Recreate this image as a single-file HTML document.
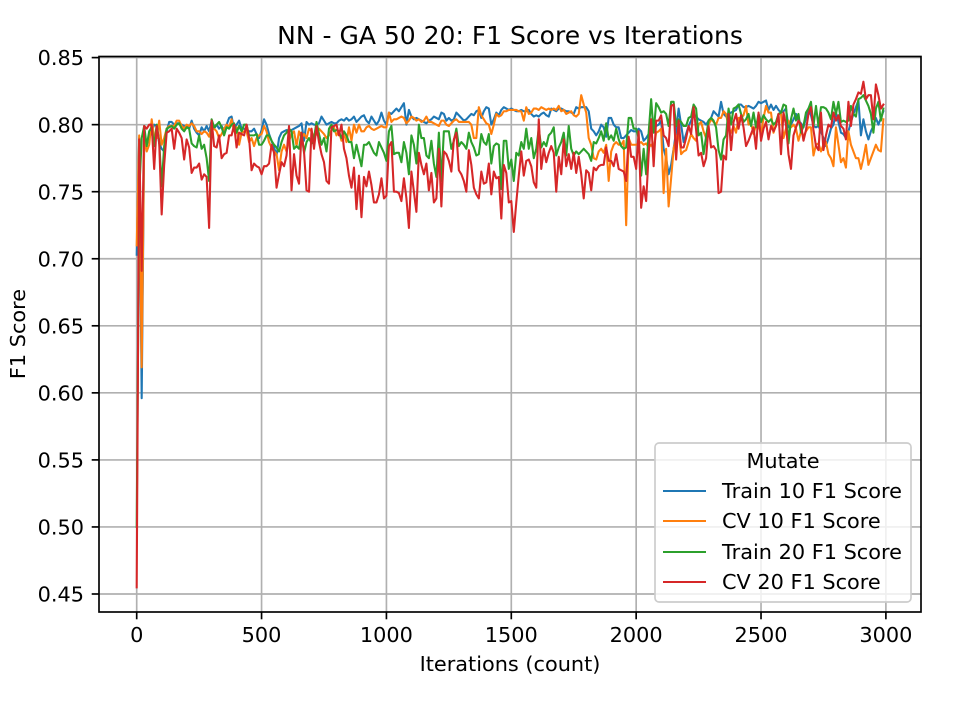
<!DOCTYPE html>
<html lang="en">
<head>
<meta charset="utf-8">
<title>NN - GA 50 20: F1 Score vs Iterations</title>
<style>
html,body{margin:0;padding:0;background:#fff;}
svg{display:block;font-family:"DejaVu Sans",sans-serif;fill:#000;}
text{font-size:20.83px;fill:#000;}
</style>
</head>
<body>
<svg id="chart" xmlns="http://www.w3.org/2000/svg" width="960" height="720" viewBox="0 0 960 720">
  <rect x="0" y="0" width="960" height="720" fill="#fff"/>
  <g id="grid"></g>
  <g id="series"></g>
  <g id="ticks"></g>
  <rect x="99" y="56.5" width="822" height="555.5" fill="none" stroke="#000" stroke-width="1.67"/>
  <text x="510" y="44" text-anchor="middle" style="font-size:25px">NN - GA 50 20: F1 Score vs Iterations</text>
  <text x="510" y="671" text-anchor="middle">Iterations (count)</text>
  <text transform="translate(25 334) rotate(-90)" text-anchor="middle">F1 Score</text>
  <g>
    <rect x="655" y="443" width="256" height="159" rx="4" ry="4" fill="#fff" fill-opacity="0.8" stroke="#ccc" stroke-width="1.67"/>
    <text x="783" y="468" text-anchor="middle">Mutate</text>
    <line x1="663" x2="706" y1="491" y2="491" stroke="#1f77b4" stroke-width="2.08"/>
    <text x="722" y="498">Train 10 F1 Score</text>
    <line x1="663" x2="706" y1="521" y2="521" stroke="#ff7f0e" stroke-width="2.08"/>
    <text x="722" y="528">CV 10 F1 Score</text>
    <line x1="663" x2="706" y1="552" y2="552" stroke="#2ca02c" stroke-width="2.08"/>
    <text x="722" y="559">Train 20 F1 Score</text>
    <line x1="663" x2="706" y1="582" y2="582" stroke="#d62728" stroke-width="2.08"/>
    <text x="722" y="589">CV 20 F1 Score</text>
  </g>
</svg>
<script>
const xTickValues = [0, 500, 1000, 1500, 2000, 2500, 3000];
const xTickLabels = ["0", "500", "1000", "1500", "2000", "2500", "3000"];
const yTickValues = [0.45, 0.50, 0.55, 0.60, 0.65, 0.70, 0.75, 0.80, 0.85];
const yTickLabels = ["0.45", "0.50", "0.55", "0.60", "0.65", "0.70", "0.75", "0.80", "0.85"];
const iterationStep = 10;

const train10 = [
.703,.79,.596,.79,.785,.79,.795,.80,.799,.786,
.782,.78,.795,.802,.802,.80,.801,.801,.80,.799,
.799,.797,.803,.797,.794,.792,.798,.795,.799,.795,
.803,.797,.80,.797,.799,.795,.80,.805,.806,.797,
.80,.803,.797,.797,.796,.795,.795,.797,.793,.79,
.796,.804,.80,.793,.788,.783,.777,.79,.794,.795,
.796,.795,.796,.797,.798,.799,.801,.788,.802,.80,
.801,.80,.80,.801,.806,.803,.80,.801,.802,.801,
.801,.803,.804,.803,.805,.803,.804,.806,.802,.804,
.806,.807,.803,.801,.806,.803,.80,.803,.809,.803,
.80,.809,.808,.81,.812,.81,.813,.816,.80,.811,
.806,.804,.805,.804,.803,.802,.801,.803,.804,.806,
.805,.804,.809,.808,.803,.805,.803,.804,.809,.807,
.805,.803,.804,.806,.808,.807,.81,.811,.805,.81,
.813,.812,.80,.804,.809,.807,.811,.813,.812,.811,
.812,.811,.81,.81,.811,.81,.81,.811,.808,.806,
.807,.806,.808,.809,.807,.806,.812,.811,.81,.812,
.812,.811,.81,.81,.809,.808,.813,.812,.813,.813,
.813,.81,.797,.795,.792,.795,.80,.798,.791,.805,
.805,.80,.798,.798,.79,.79,.792,.794,.796,.795,
.795,.797,.795,.788,.79,.793,.796,.798,.799,.80,
.803,.782,.775,.763,.77,.782,.795,.812,.80,.787,
.793,.799,.803,.808,.806,.804,.803,.802,.80,.803,
.805,.81,.808,.806,.817,.808,.806,.808,.809,.81,
.811,.815,.815,.813,.813,.814,.813,.812,.814,.817,
.816,.817,.818,.811,.815,.811,.814,.811,.809,.81,
.812,.798,.80,.804,.808,.803,.801,.798,.805,.812,
.807,.799,.798,.799,.795,.79,.784,.79,.797,.80,
.809,.802,.794,.793,.79,.795,.802,.808,.813,.818,
.792,.804,.795,.789,.795,.799,.805,.80,.805,.81
];

const cv10 = [
.71,.792,.619,.79,.78,.785,.804,.79,.79,.803,
.785,.79,.797,.799,.799,.799,.803,.803,.799,.797,
.80,.799,.801,.799,.795,.795,.793,.795,.794,.791,
.80,.797,.795,.79,.793,.797,.80,.798,.804,.795,
.798,.785,.794,.795,.795,.787,.79,.784,.79,.792,
.793,.799,.795,.787,.783,.78,.778,.766,.78,.785,
.78,.788,.793,.795,.784,.795,.79,.793,.79,.797,
.795,.79,.793,.797,.795,.793,.79,.792,.796,.798,
.792,.795,.788,.793,.787,.798,.788,.80,.794,.80,
.795,.795,.798,.799,.797,.796,.797,.798,.799,.798,
.798,.809,.802,.804,.804,.805,.806,.805,.801,.803,
.806,.805,.803,.804,.802,.803,.806,.802,.802,.801,
.80,.799,.803,.803,.80,.799,.801,.803,.804,.802,
.802,.802,.802,.802,.80,.79,.79,.813,.807,.804,
.801,.80,.793,.80,.808,.806,.807,.81,.81,.811,
.811,.811,.811,.81,.81,.803,.813,.808,.809,.812,
.812,.811,.813,.812,.811,.812,.811,.812,.811,.814,
.81,.811,.808,.809,.81,.807,.806,.808,.822,.815,
.809,.79,.785,.775,.774,.78,.782,.779,.785,.758,
.78,.785,.787,.785,.785,.788,.725,.79,.785,.785,
.785,.786,.787,.785,.786,.783,.785,.782,.794,.795,
.797,.749,.782,.739,.76,.782,.79,.795,.778,.78,
.781,.787,.793,.79,.788,.80,.802,.795,.79,.80,
.804,.802,.80,.805,.805,.81,.808,.798,.794,.799,
.794,.805,.805,.807,.814,.80,.801,.793,.80,.80,
.793,.805,.814,.809,.809,.794,.80,.808,.808,.79,
.797,.803,.798,.80,.797,.788,.795,.791,.795,.798,
.798,.777,.785,.786,.78,.785,.787,.778,.775,.769,
.798,.785,.772,.775,.768,.795,.785,.78,.775,.775,
.767,.775,.785,.77,.775,.78,.785,.781,.78,.804
];

const train20 = [
.50,.75,.79,.799,.784,.795,.798,.784,.80,.788,
.754,.784,.797,.798,.799,.797,.80,.801,.797,.795,
.798,.797,.786,.784,.783,.792,.782,.785,.775,.758,
.804,.798,.80,.802,.798,.792,.798,.797,.80,.801,
.794,.799,.795,.80,.80,.792,.792,.792,.793,.785,
.785,.788,.792,.792,.788,.785,.783,.78,.787,.792,
.794,.797,.795,.782,.784,.782,.794,.779,.787,.79,
.786,.79,.802,.793,.785,.79,.78,.797,.80,.795,
.796,.795,.79,.795,.792,.787,.787,.775,.785,.777,
.769,.785,.785,.787,.783,.779,.777,.787,.783,.779,
.773,.795,.799,.778,.779,.779,.772,.787,.779,.763,
.792,.785,.771,.80,.79,.79,.777,.775,.788,.771,
.761,.794,.758,.795,.795,.795,.782,.788,.797,.784,
.787,.785,.782,.794,.787,.783,.777,.778,.793,.787,
.785,.793,.771,.784,.786,.785,.752,.788,.788,.767,
.774,.758,.779,.777,.787,.782,.797,.782,.79,.775,
.782,.797,.783,.787,.784,.792,.794,.798,.777,.783,
.787,.794,.777,.799,.782,.777,.78,.778,.78,.782,
.78,.778,.773,.787,.786,.79,.795,.788,.801,.789,
.792,.788,.797,.789,.784,.782,.783,.805,.805,.797,
.797,.79,.762,.782,.763,.794,.819,.794,.816,.813,
.809,.81,.808,.799,.817,.817,.799,.804,.802,.799,
.799,.805,.806,.815,.812,.792,.794,.778,.791,.803,
.805,.803,.798,.781,.774,.789,.792,.812,.80,.812,
.813,.815,.808,.802,.804,.808,.799,.809,.798,.808,
.802,.807,.804,.802,.804,.80,.802,.808,.809,.815,
.814,.786,.804,.812,.803,.808,.794,.799,.809,.812,
.817,.799,.814,.799,.813,.813,.812,.809,.804,.817,
.808,.817,.802,.803,.802,.803,.814,.808,.806,.819,
.82,.822,.818,.814,.808,.794,.812,.817,.803,.812
];

const cv20 = [
.455,.789,.691,.799,.797,.80,.80,.767,.799,.787,
.733,.77,.794,.795,.797,.782,.797,.794,.79,.774,
.789,.783,.764,.768,.768,.771,.759,.763,.761,.723,
.803,.784,.783,.792,.775,.778,.779,.792,.792,.80,
.783,.794,.793,.792,.80,.79,.766,.771,.769,.768,
.763,.769,.769,.771,.785,.779,.753,.763,.772,.769,
.777,.799,.751,.778,.762,.756,.794,.78,.751,.75,
.797,.782,.799,.787,.778,.772,.758,.756,.798,.799,
.80,.792,.80,.782,.775,.762,.753,.768,.737,.762,
.731,.761,.754,.765,.755,.742,.742,.748,.76,.745,
.747,.784,.787,.75,.75,.749,.743,.76,.745,.723,
.765,.75,.735,.779,.77,.763,.771,.751,.764,.742,
.745,.782,.739,.78,.778,.773,.765,.789,.794,.766,
.763,.758,.75,.781,.77,.753,.748,.745,.765,.756,
.757,.771,.748,.765,.76,.761,.73,.77,.764,.742,
.743,.72,.742,.762,.78,.762,.773,.774,.769,.757,
.753,.804,.767,.782,.772,.779,.784,.779,.75,.776,
.763,.789,.769,.778,.767,.779,.764,.776,.763,.745,
.766,.764,.751,.768,.766,.769,.77,.77,.783,.773,
.773,.769,.778,.767,.766,.765,.758,.791,.776,.776,
.767,.795,.738,.754,.743,.778,.804,.769,.803,.803,
.807,.792,.79,.784,.814,.815,.774,.803,.783,.783,
.79,.799,.793,.813,.796,.777,.779,.769,.775,.799,
.783,.784,.781,.749,.75,.777,.774,.808,.781,.802,
.808,.797,.807,.798,.784,.788,.793,.798,.782,.809,
.788,.797,.802,.789,.799,.795,.799,.808,.778,.809,
.80,.778,.767,.792,.798,.803,.80,.788,.796,.808,
.813,.796,.784,.781,.809,.781,.792,.80,.798,.809,
.803,.807,.799,.797,.789,.817,.799,.815,.819,.824,
.823,.832,.819,.822,.822,.804,.83,.822,.812,.815
];

const SVG_NS = "http://www.w3.org/2000/svg";
const xPixelAtZero = 136.7, xPixelsPerUnit = 0.24973;
const yPixelAtBase = 594, yBaseValue = 0.45, yPixelsPerUnit = 1341;
function xScale(v) { return xPixelAtZero + v * xPixelsPerUnit; }
function yScale(v) { return yPixelAtBase - (v - yBaseValue) * yPixelsPerUnit; }

function svgEl(tag, attrs) {
  const el = document.createElementNS(SVG_NS, tag);
  for (const k in attrs) el.setAttribute(k, attrs[k]);
  return el;
}

const gridGroup = document.getElementById("grid");
const tickGroup = document.getElementById("ticks");
const seriesGroup = document.getElementById("series");

xTickValues.forEach(function (v, i) {
  const px = xScale(v);
  const gridLine = svgEl("line", { x1: px, x2: px, y1: 56.5, y2: 612, stroke: "#b0b0b0", "stroke-width": 1.67 });
  
  
  gridGroup.appendChild(gridLine);
  const tick = svgEl("line", { x1: px, x2: px, y1: 612, y2: 619.3, stroke: "#000", "stroke-width": 1.67 });
  
  
  tickGroup.appendChild(tick);
  const label = svgEl("text", { x: px, y: 642, "text-anchor": "middle" });
  
  
  label.textContent = xTickLabels[i];
  tickGroup.appendChild(label);
});

yTickValues.forEach(function (v, i) {
  const py = yScale(v);
  const gridLine = svgEl("line", { x1: 99, x2: 921, y1: py, y2: py, stroke: "#b0b0b0", "stroke-width": 1.67 });
  
  
  gridGroup.appendChild(gridLine);
  const tick = svgEl("line", { x1: 91.7, x2: 99, y1: py, y2: py, stroke: "#000", "stroke-width": 1.67 });
  
  
  tickGroup.appendChild(tick);
  const label = svgEl("text", { x: 84, y: py + 7.6, "text-anchor": "end" });
  
  
  label.textContent = yTickLabels[i];
  tickGroup.appendChild(label);
});

function seriesPoints(values) {
  return values.map(function (v, i) {
    return xScale(i * iterationStep).toFixed(2) + "," + yScale(v).toFixed(2);
  }).join(" ");
}

function drawSeries(values, color, name) {
  const line = svgEl("polyline", {
    points: seriesPoints(values), fill: "none", stroke: color,
    "stroke-width": 2.08, "stroke-linejoin": "round", "stroke-linecap": "square"
  });
  
  
  seriesGroup.appendChild(line);
}

drawSeries(train10, "#1f77b4", "line-train-10-f1-score");
drawSeries(cv10, "#ff7f0e", "line-cv-10-f1-score");
drawSeries(train20, "#2ca02c", "line-train-20-f1-score");
drawSeries(cv20, "#d62728", "line-cv-20-f1-score");
</script>
</body>
</html>
